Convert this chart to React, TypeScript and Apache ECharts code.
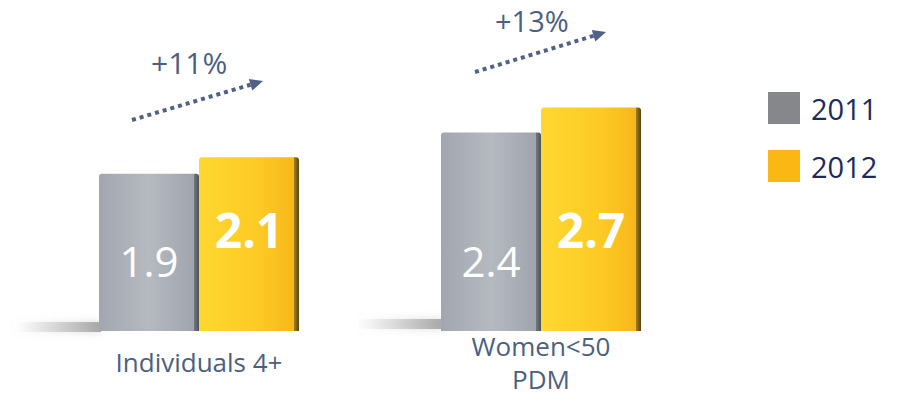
import React, { useEffect, useRef } from "react";
import * as echarts from "echarts";

const categories = ["Individuals 4+", "Women<50\nPDM"];
const series2011 = [1.9, 2.4];
const series2012 = [2.1, 2.7];
const growthLabels = ["+11%", "+13%"];
const seriesNames = ["2011", "2012"];

const FONT = "'Open Sans', 'Noto Sans', sans-serif";
const TEXT_BLUE = "#4d5f80";

export default function App() {
  const ref = useRef<HTMLDivElement>(null);
  useEffect(() => {
    if (!ref.current) return;
    const chart = echarts.init(ref.current, undefined, { renderer: "svg" });
    const grayGrad = new echarts.graphic.LinearGradient(0, 0, 1, 0, [
      { offset: 0, color: "#a2a6ae" },
      { offset: 0.5, color: "#b5b9c0" },
      { offset: 0.95, color: "#a0a4ac" },
      { offset: 0.955, color: "#6f737a" },
      { offset: 1, color: "#4e5259" },
    ]);
    const yellowGrad = new echarts.graphic.LinearGradient(0, 0, 1, 0, [
      { offset: 0, color: "#fdd830" },
      { offset: 0.6, color: "#fdca24" },
      { offset: 0.95, color: "#f7b71a" },
      { offset: 0.955, color: "#9a7a20" },
      { offset: 1, color: "#574513" },
    ]);
    const shadowFill = new echarts.graphic.LinearGradient(0, 0, 1, 0, [
      { offset: 0, color: "rgba(190,190,190,0)" },
      { offset: 1, color: "rgba(150,150,150,0.8)" },
    ]);
    const arrow = (x1: number, y1: number, x2: number, y2: number) => {
      const ang = Math.atan2(y2 - y1, x2 - x1);
      const L = 13, W = 6;
      const bx = x2 - L * Math.cos(ang), by = y2 - L * Math.sin(ang);
      const px = -Math.sin(ang) * W, py = Math.cos(ang) * W;
      return [
        {
          type: "line",
          shape: { x1, y1, x2: bx, y2: by },
          style: { stroke: "#4f6283", lineWidth: 4, lineDash: [4, 4] },
        },
        {
          type: "polygon",
          shape: { points: [[x2, y2], [bx + px, by + py], [bx - px, by - py]] },
          style: { fill: "#4f6283" },
        },
      ];
    };
    chart.setOption({
      animation: false,
      grid: { left: 28, right: 185, top: 0, bottom: 63 },
      xAxis: {
        type: "category",
        data: categories,
        axisLine: { show: false },
        axisTick: { show: false },
        axisLabel: {
          color: TEXT_BLUE,
          fontFamily: FONT,
          fontSize: 26,
          lineHeight: 33,
          verticalAlign: "middle",
          margin: 31,
        },
      },
      yAxis: { type: "value", min: 0, max: 4, show: false, splitLine: { show: false } },
      legend: {
        orient: "vertical",
        left: 768,
        top: 92,
        padding: 0,
        itemWidth: 32,
        itemHeight: 32,
        itemGap: 26,
        icon: "rect",
        textStyle: { color: "#1c2a5e", fontFamily: FONT, fontSize: 29, padding: [0, 0, 0, 6] },
        data: [
          { name: seriesNames[0], itemStyle: { color: "#86878b" } },
          { name: seriesNames[1], itemStyle: { color: "#fbb814" } },
        ],
      },
      series: [
        {
          name: seriesNames[0],
          type: "bar",
          data: series2011,
          barWidth: 100,
          barGap: "0%",
          itemStyle: { color: grayGrad, borderRadius: [3, 3, 0, 0] },
          label: {
            show: true,
            position: "insideBottom",
            distance: 50,
            color: "#ffffff",
            fontFamily: FONT,
            fontSize: 42,
            formatter: (p: any) => p.value.toFixed(1),
          },
          z: 3,
        },
        {
          name: seriesNames[1],
          type: "bar",
          data: series2012,
          barWidth: 100,
          itemStyle: { color: yellowGrad, borderRadius: [3, 3, 0, 0] },
          label: {
            show: true,
            position: "insideBottom",
            distance: 78,
            color: "#ffffff",
            fontFamily: FONT,
            fontWeight: "bold",
            fontSize: 48,
            formatter: (p: any) => p.value.toFixed(1),
          },
          z: 3,
        },
      ],
      graphic: [
        {
          type: "rect",
          shape: { x: 15, y: 322, width: 86, height: 10 },
          style: { fill: shadowFill, shadowBlur: 8, shadowColor: "rgba(170,170,170,0.6)" },
          z: 1,
        },
        {
          type: "rect",
          shape: { x: 357, y: 319, width: 86, height: 10 },
          style: { fill: shadowFill, shadowBlur: 8, shadowColor: "rgba(170,170,170,0.6)" },
          z: 1,
        },
        ...arrow(132, 120, 263, 81),
        ...arrow(475, 72, 606, 32),
        {
          type: "text",
          left: 151,
          top: 47,
          style: { text: growthLabels[0], fill: TEXT_BLUE, font: `30px ${FONT}` },
        },
        {
          type: "text",
          left: 495,
          top: 6,
          style: { text: growthLabels[1], fill: TEXT_BLUE, font: `29px ${FONT}` },
        },
      ],
    });
    return () => chart.dispose();
  }, []);
  return (
    <div
      ref={ref}
      style={{ position: "absolute", left: 0, top: 0, width: 897, height: 395 }}
    />
  );
}
